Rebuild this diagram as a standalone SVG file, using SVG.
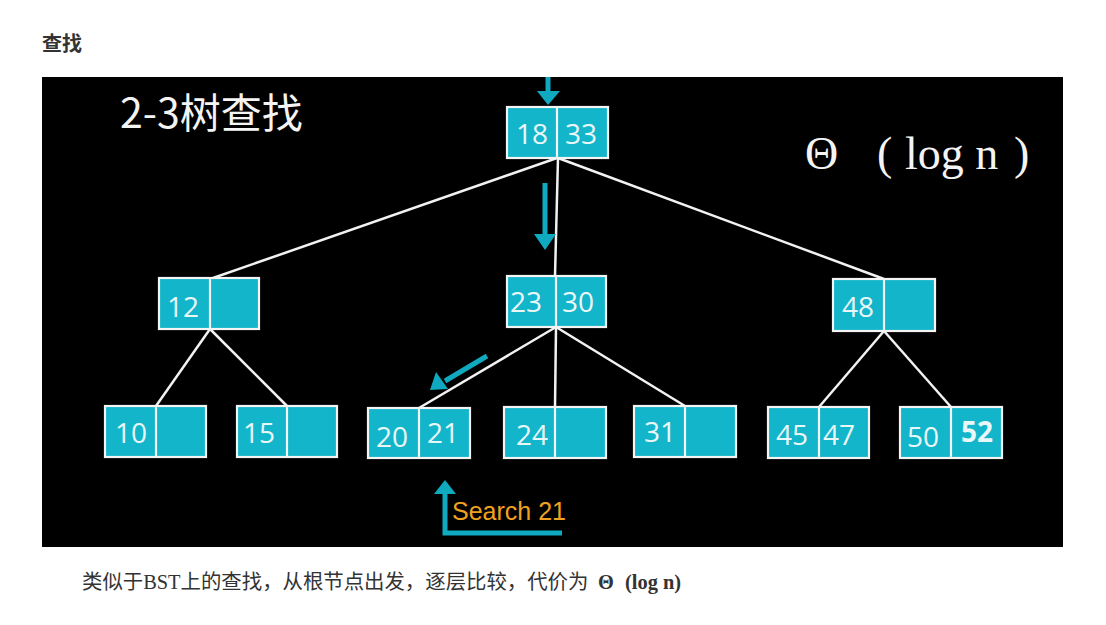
<svg xmlns="http://www.w3.org/2000/svg" width="1106" height="625" viewBox="0 0 1106 625">
<style>
.cell{fill:#12b5c9;stroke:#f4f4f4;stroke-width:2.2}
.div{stroke:#f4f4f4;stroke-width:2.2}
.num{font-family:"Open Sans","Noto Sans",sans-serif;font-size:28px;fill:#eaf7f9;text-anchor:middle}
.edge{stroke:#f2f2f2;stroke-width:2.5;fill:none}
.arr{stroke:#0fa9c0;stroke-width:5;fill:none}
.head{fill:#0fa9c0}
</style>
<rect width="1106" height="625" fill="#ffffff"/>
<text x="42" y="51" font-family="Noto Sans CJK SC, sans-serif" font-weight="bold" font-size="20" fill="#333">查找</text>
<rect x="42" y="77" width="1021" height="470" fill="#000"/>
<text x="120" y="128" font-family="Noto Sans CJK SC, sans-serif" font-size="41" fill="#f4f4f4">2-3树查找</text>
<text y="169" font-family="Liberation Serif, serif" font-size="46" fill="#f4f4f4"><tspan x="805">Θ</tspan><tspan x="877">(</tspan><tspan x="905">log n</tspan><tspan x="1014">)</tspan></text>

<g id="connectors">
<line class="edge" x1="557" y1="158" x2="213" y2="278"/>
<line class="edge" x1="558" y1="158" x2="555" y2="276"/>
<line class="edge" x1="558" y1="158" x2="884" y2="279"/>
<line class="edge" x1="210" y1="329" x2="156" y2="406"/>
<line class="edge" x1="210" y1="329" x2="287" y2="406"/>
<line class="edge" x1="556" y1="327" x2="419" y2="408"/>
<line class="edge" x1="556" y1="327" x2="555" y2="407"/>
<line class="edge" x1="556" y1="327" x2="685" y2="406"/>
<line class="edge" x1="884" y1="331" x2="819" y2="407"/>
<line class="edge" x1="884" y1="331" x2="951" y2="407"/>
</g>

<g id="arrows">
<line class="arr" x1="548" y1="77" x2="548" y2="93"/>
<polygon class="head" points="537,91 560,91 548,105"/>
<line class="arr" x1="545" y1="183" x2="545" y2="236"/>
<polygon class="head" points="534,234 556,234 545,250"/>
<line class="arr" x1="487" y1="356" x2="445" y2="381"/>
<polygon class="head" points="436,372 448,389 430,390"/>
<polyline class="arr" points="562,533 445,533 445,492"/>
<polygon class="head" points="434,494 456,494 445,480"/>
<text x="452" y="520" font-family="Liberation Sans, Arial, sans-serif" font-size="25" fill="#f0a21e">Search 21</text>
</g>

<g id="n18_33"><rect class="cell" x="507" y="107" width="101" height="51"/><line class="div" x1="557" y1="107" x2="557" y2="158"/><text class="num" x="532" y="144">18</text><text class="num" x="581" y="144">33</text></g>
<g id="n12"><rect class="cell" x="159" y="278" width="100" height="51"/><line class="div" x1="210" y1="278" x2="210" y2="329"/><text class="num" x="183" y="317">12</text></g>
<g id="n23_30"><rect class="cell" x="507" y="276" width="99" height="51"/><line class="div" x1="556" y1="276" x2="556" y2="327"/><text class="num" x="526" y="312">23</text><text class="num" x="578" y="312">30</text></g>
<g id="n48"><rect class="cell" x="833" y="279" width="102" height="52"/><line class="div" x1="884" y1="279" x2="884" y2="331"/><text class="num" x="858" y="317">48</text></g>
<g id="n10"><rect class="cell" x="105" y="406" width="101" height="51"/><line class="div" x1="156" y1="406" x2="156" y2="457"/><text class="num" x="131" y="443">10</text></g>
<g id="n15"><rect class="cell" x="237" y="406" width="100" height="51"/><line class="div" x1="287" y1="406" x2="287" y2="457"/><text class="num" x="259" y="443">15</text></g>
<g id="n20_21"><rect class="cell" x="368" y="408" width="102" height="50"/><line class="div" x1="419" y1="408" x2="419" y2="458"/><text class="num" x="392" y="447">20</text><text class="num" x="443" y="443">21</text></g>
<g id="n24"><rect class="cell" x="504" y="407" width="102" height="51"/><line class="div" x1="555" y1="407" x2="555" y2="458"/><text class="num" x="532" y="445">24</text></g>
<g id="n31"><rect class="cell" x="634" y="406" width="102" height="51"/><line class="div" x1="685" y1="406" x2="685" y2="457"/><text class="num" x="660" y="442">31</text></g>
<g id="n45_47"><rect class="cell" x="768" y="407" width="101" height="51"/><line class="div" x1="819" y1="407" x2="819" y2="458"/><text class="num" x="792" y="445">45</text><text class="num" x="839" y="445">47</text></g>
<g id="n50_52"><rect class="cell" x="900" y="407" width="102" height="51"/><line class="div" x1="951" y1="407" x2="951" y2="458"/><text class="num" x="923" y="447">50</text><text class="num" x="977" y="442" font-weight="bold" font-size="31">52</text></g>

<text x="82" y="589" font-family="Liberation Serif, Noto Sans CJK SC, serif" font-size="20.4" fill="#333">类似于BST上的查找，从根节点出发，逐层比较，代价为 <tspan x="598" font-weight="bold">Θ</tspan><tspan x="625" font-weight="bold">(log n)</tspan></text>
</svg>
